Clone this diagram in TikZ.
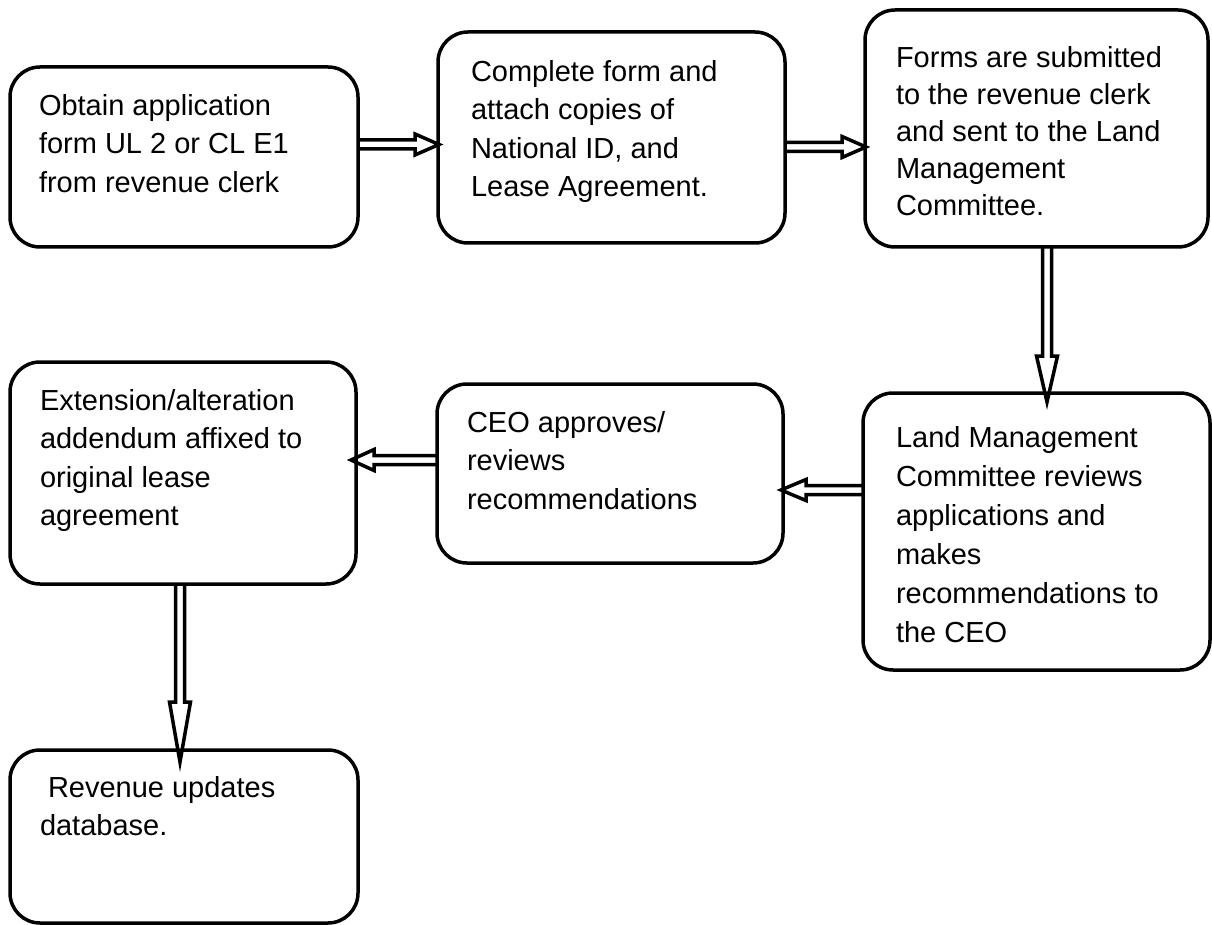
\documentclass[tikz,border=0pt]{standalone}
\usepackage{fontspec}
\setmainfont{Liberation Sans}
\usetikzlibrary{calc}
\tikzset{
  box/.style={draw=black, line width=3.5pt, rounded corners=30pt, outer sep=0pt, inner sep=0pt, anchor=north west},
  txt/.style={anchor=north west, inner sep=0pt, outer sep=0pt, align=left, font=\fontsize{29}{38.5}\selectfont},
  conn/.style={draw=black, line width=3.5pt, line join=miter, miter limit=10},
}
\newcommand\blockarrow[3]{%
  \coordinate (hb) at ($(#2)!#3!(#1)$);
  \draw[conn] ($(#1)!4.5pt!90:(#2)$) -- ($(hb)!4.5pt!90:(#2)$) -- ($(hb)!10.5pt!90:(#2)$) -- (#2)
    -- ($(hb)!10.5pt!-90:(#2)$) -- ($(hb)!4.5pt!-90:(#2)$) -- ($(#1)!4.5pt!-90:(#2)$);
}
\newcommand\sline{\rule{0pt}{21pt}}
\begin{document}
\begin{tikzpicture}[x=1pt,y=-1pt]
\useasboundingbox (0,0) rectangle (1212,925);
% boxes
\node[box, minimum width=348pt, minimum height=180pt] (b1) at (10,67) {};
\node[box, minimum width=347pt, minimum height=211pt] (b2) at (438,32) {};
\node[box, minimum width=343pt, minimum height=237pt] (b3) at (865,10) {};
\node[box, minimum width=347pt, minimum height=277pt] (b4) at (863,393) {};
\node[box, minimum width=346pt, minimum height=179pt] (b5) at (437,384) {};
\node[box, minimum width=346pt, minimum height=222pt] (b6) at (10,362) {};
\node[box, minimum width=348pt, minimum height=173pt] (b7) at (10,750) {};
% texts
\node[txt] (t1) at ([xshift=29pt,yshift=-27pt]b1.north west) {\sline Obtain application\\form UL 2 or CL E1\\from revenue clerk};
\node[txt] (t2) at ([xshift=33pt,yshift=-28pt]b2.north west) {\sline Complete form and\\attach copies of\\National ID, and\\Lease Agreement.};
\node[txt, font=\fontsize{29}{37}\selectfont] (t3) at ([xshift=31pt,yshift=-36pt]b3.north west) {\sline Forms are submitted\\to the revenue clerk\\and sent to the Land\\Management\\Committee.};
\node[txt, font=\fontsize{29}{39}\selectfont] (t4) at ([xshift=33pt,yshift=-33pt]b4.north west) {\sline Land Management\\Committee reviews\\applications and\\makes\\recommendations to\\the CEO};
\node[txt] (t5) at ([xshift=30pt,yshift=-27pt]b5.north west) {\sline CEO approves/\\reviews\\recommendations};
\node[txt] (t6) at ([xshift=30pt,yshift=-27pt]b6.north west) {\sline Extension/alteration\\addendum affixed to\\original lease\\agreement};
\node[txt] (t7) at ([xshift=30pt,yshift=-26pt]b7.north west) {\sline\hspace*{8pt}Revenue updates\\database.};
% connectors
\coordinate (a12s) at ([yshift=12.5pt]b1.east);
\coordinate (a12e) at ([xshift=1pt]a12s -| b2.west);
\blockarrow{a12s}{a12e}{24pt}
\coordinate (a23s) at ([yshift=-9.5pt]b2.east);
\coordinate (a23e) at ([xshift=1pt]a23s -| b3.west);
\blockarrow{a23s}{a23e}{24pt}
\coordinate (a34s) at ([xshift=10.5pt]b3.south);
\coordinate (a34t) at (a34s |- b4.north);
\coordinate (a34e) at ([yshift=-9pt]a34t);
\blockarrow{a34s}{a34e}{46pt}
\coordinate (a45s) at ([yshift=41.5pt]b4.west);
\coordinate (a45e) at ([xshift=-2pt]a45s -| b5.east);
\blockarrow{a45s}{a45e}{25pt}
\coordinate (a56s) at ([yshift=13.5pt]b5.west);
\coordinate (a56e) at ([xshift=-5pt]a56s -| b6.east);
\blockarrow{a56s}{a56e}{23pt}
\coordinate (a67s) at ([xshift=-3pt]b6.south);
\coordinate (a67t) at (a67s |- b7.north);
\coordinate (a67e) at ([yshift=-12pt]a67t);
\blockarrow{a67s}{a67e}{60pt}
\end{tikzpicture}
\end{document}
